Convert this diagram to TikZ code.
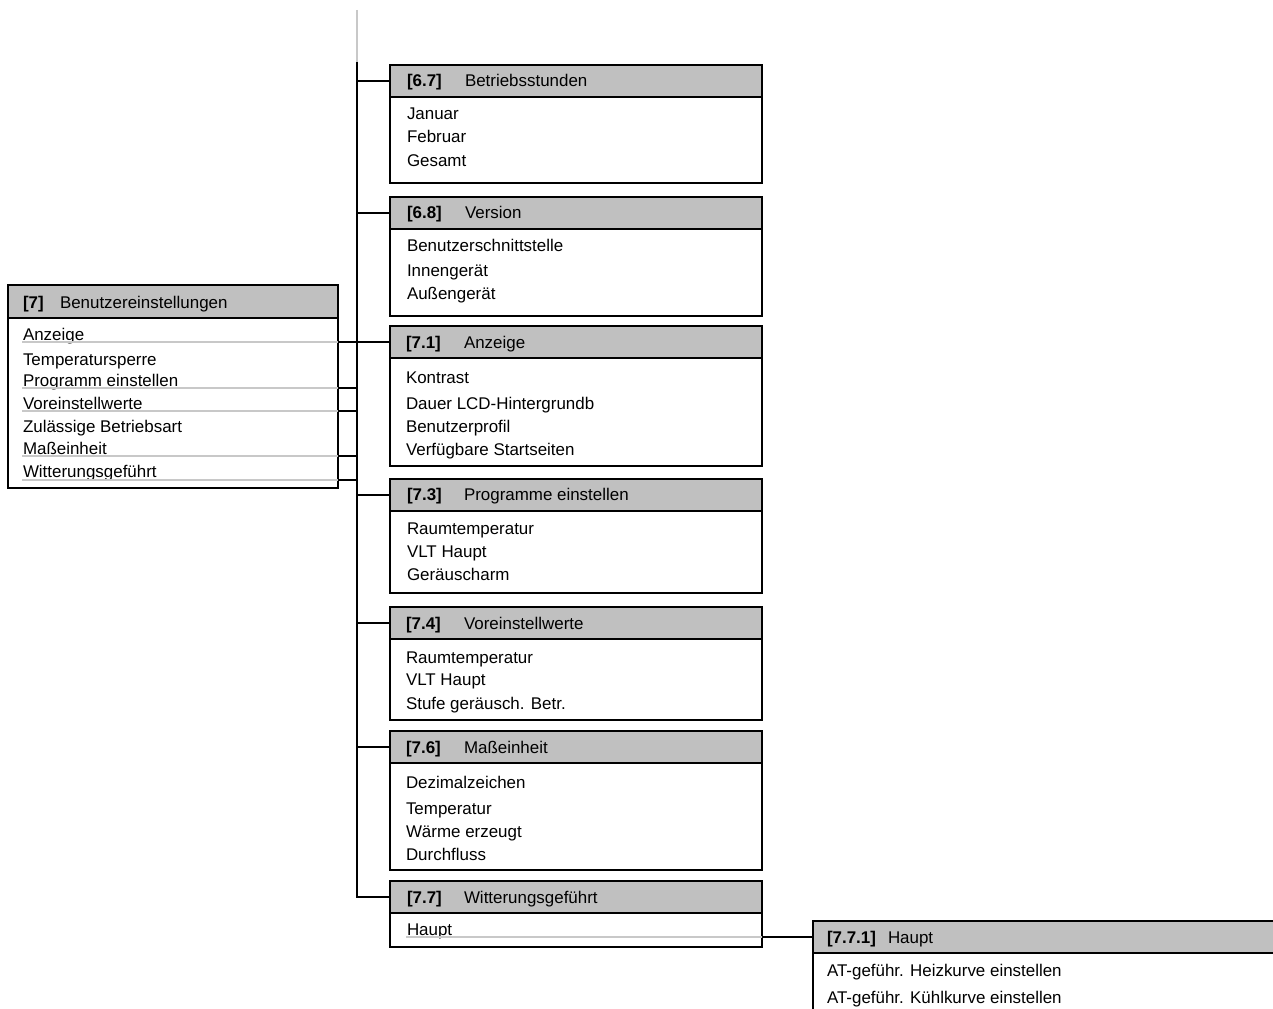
\documentclass[tikz,border=0pt]{standalone}
\usepackage{fontspec}
\setmainfont{Liberation Sans}
\usetikzlibrary{calc}
\definecolor{hdrgray}{RGB}{192,192,192}
\definecolor{ulgray}{RGB}{200,200,200}

\begin{document}
\begin{tikzpicture}[x=0.75pt, y=-0.75pt, line width=1.5pt,
  hdr/.style={draw, fill=hdrgray, anchor=north west, inner sep=0pt, outer sep=0pt, minimum width=#1*0.75pt, minimum height=24pt},
  menu/.style 2 args={draw, anchor=north west, inner sep=0pt, outer sep=0pt, minimum width=#1*0.75pt, minimum height=#2*0.75pt},
  txt/.style={anchor=base west, inner sep=0pt, font=\fontsize{12.7}{15}\selectfont}]

\path[use as bounding box] (0,0) rectangle (1273,1009);
\clip (0,0) rectangle (1273,1009);

% [7] Benutzereinstellungen
\node[menu={330}{203}] (m7) at (8,285) {};
\node[hdr=330, minimum height=24.75pt] (h7) at (8,285) {};
\node[txt] (n7) at (22,308) {\textbf{[7]}};
\node[txt] (t7) at (59,308) {Benutzereinstellungen};
\node[txt] (i7a) at (22,340) {Anzeige};
\node[txt] (i7b) at (22,365) {Temperatursperre};
\node[txt] (i7c) at (22,386) {Programm einstellen};
\node[txt] (i7d) at (22,409) {Voreinstellwerte};
\node[txt] (i7e) at (22,432) {Zulässige Betriebsart};
\node[txt] (i7f) at (22,454) {Maßeinheit};
\node[txt] (i7g) at (22,477) {Witterungsgeführt};

% [6.7] Betriebsstunden
\node[menu={372}{118}] (m67) at (390,65) {};
\node[hdr=372] (h67) at (390,65) {};
\node[txt] (n67) at (406,87) {\textbf{[6.7]}};
\node[txt] (t67) at (464,87) {Betriebsstunden};
\node[txt] (i67a) at (406,120) {Januar};
\node[txt] (i67b) at (406,143) {Februar};
\node[txt] (i67c) at (406,167) {Gesamt};

% [6.8] Version
\node[menu={372}{119}] (m68) at (390,197) {};
\node[hdr=372] (h68) at (390,197) {};
\node[txt] (n68) at (406,219) {\textbf{[6.8]}};
\node[txt] (t68) at (464,219) {Version};
\node[txt] (i68a) at (406,252) {Benutzerschnittstelle};
\node[txt] (i68b) at (406,276) {Innengerät};
\node[txt] (i68c) at (406,299) {Außengerät};

% [7.1] Anzeige
\node[menu={372}{140}] (m71) at (390,326) {};
\node[hdr=372] (h71) at (390,326) {};
\node[txt] (n71) at (405,348) {\textbf{[7.1]}};
\node[txt] (t71) at (463,348) {Anzeige};
\node[txt] (i71a) at (405,383) {Kontrast};
\node[txt] (i71b) at (405,409) {Dauer LCD-Hintergrundb};
\node[txt] (i71c) at (405,432) {Benutzerprofil};
\node[txt] (i71d) at (405,455) {Verfügbare Startseiten};

% [7.3] Programme einstellen
\node[menu={372}{114}] (m73) at (390,479) {};
\node[hdr=372] (h73) at (390,479) {};
\node[txt] (n73) at (406,500) {\textbf{[7.3]}};
\node[txt] (t73) at (463,500) {Programme einstellen};
\node[txt] (i73a) at (406,534) {Raumtemperatur};
\node[txt] (i73b) at (406,557) {VLT Haupt};
\node[txt] (i73c) at (406,580) {Geräuscharm};

% [7.4] Voreinstellwerte
\node[menu={372}{113}] (m74) at (390,607) {};
\node[hdr=372] (h74) at (390,607) {};
\node[txt] (n74) at (405,629) {\textbf{[7.4]}};
\node[txt] (t74) at (463,629) {Voreinstellwerte};
\node[txt] (i74a) at (405,663) {Raumtemperatur};
\node[txt] (i74b) at (405,685) {VLT Haupt};
\node[txt] (i74c) at (405,709) {Stufe geräusch. Betr.};

% [7.6] Maßeinheit
\node[menu={372}{139}] (m76) at (390,731) {};
\node[hdr=372] (h76) at (390,731) {};
\node[txt] (n76) at (405,753) {\textbf{[7.6]}};
\node[txt] (t76) at (463,753) {Maßeinheit};
\node[txt] (i76a) at (405,788) {Dezimalzeichen};
\node[txt] (i76b) at (405,814) {Temperatur};
\node[txt] (i76c) at (405,837) {Wärme erzeugt};
\node[txt] (i76d) at (405,860) {Durchfluss};

% [7.7] Witterungsgeführt
\node[menu={372}{66}] (m77) at (390,881) {};
\node[hdr=372] (h77) at (390,881) {};
\node[txt] (n77) at (406,903) {\textbf{[7.7]}};
\node[txt] (t77) at (463,903) {Witterungsgeführt};
\node[txt] (i77a) at (406,935) {Haupt};

% [7.7.1] Haupt
\node[menu={480}{120}] (m771) at (813,921) {};
\node[hdr=480] (h771) at (813,921) {};
\node[txt] (n771) at (826,943) {\textbf{[7.7.1]}};
\node[txt] (t771) at (887,943) {Haupt};
\node[txt] (i771a) at (826,976) {AT-geführ. Heizkurve einstellen};
\node[txt] (i771b) at (826,1003) {AT-geführ. Kühlkurve einstellen};

% trunk
\coordinate (top) at (357,10);
\coordinate (trunk) at (357,62);
\draw[ulgray] (top) -- (trunk);
\draw (trunk) |- (h77.west);
\foreach \b in {h67,h68,h71,h73,h74,h76}
  \draw (trunk |- \b.west) -- (\b.west);

% underlines and links
\coordinate (u7a) at (22,342);
\coordinate (u7c) at (22,388);
\coordinate (u7d) at (22,411);
\coordinate (u7f) at (22,456);
\coordinate (u7g) at (22,480);
\foreach \u in {u7a,u7c,u7d,u7f,u7g}
  \draw[ulgray] (\u) -- (\u -| m7.east);
\draw (u7a -| m7.east) -- (u7a -| h71.west);
\foreach \u in {u7c,u7d,u7f,u7g}
  \draw (\u -| m7.east) -- (\u -| trunk);

\coordinate (u77) at (406,937);
\draw[ulgray] (u77) -- (u77 -| m77.east);
\draw (u77 -| m77.east) -- (u77 -| h771.west);

\end{tikzpicture}
\end{document}
